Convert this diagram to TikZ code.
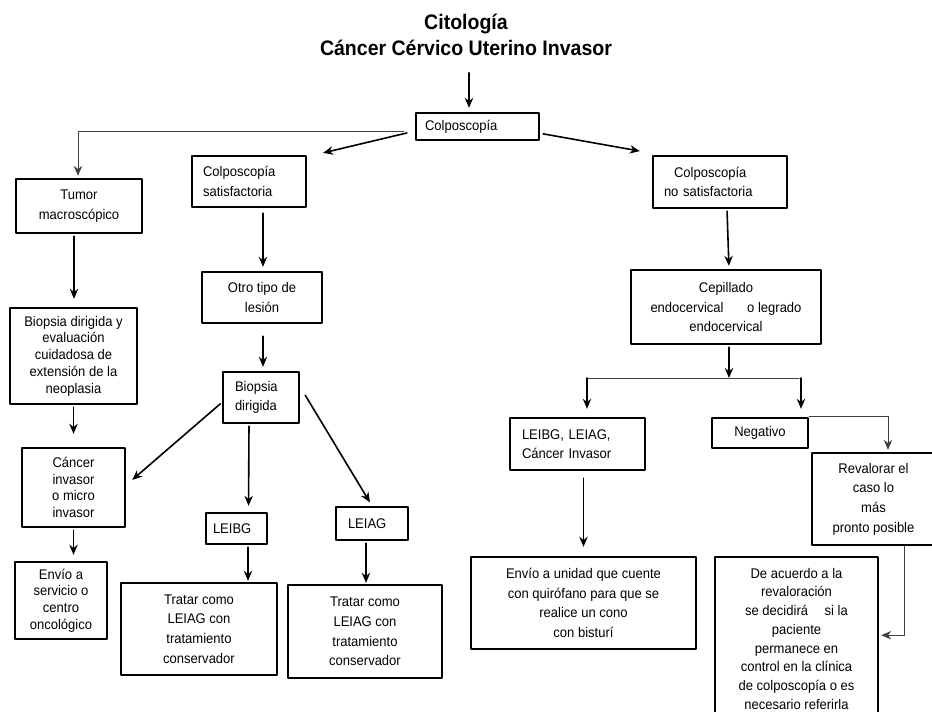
\documentclass[tikz,border=0pt]{standalone}
\usepackage{fontspec}
\setmainfont{Liberation Sans}[FakeStretch=0.93]
\usetikzlibrary{arrows.meta}

\begin{document}
\begin{tikzpicture}[x=0.5pt, y=-0.5pt, >={Stealth[length=5pt,width=4.2pt]},
  font=\fontsize{7}{9.8}\selectfont, line join=round, line cap=round,
  caja/.style={draw, line width=1.2pt, align=center, inner sep=1pt},
  apretada/.style={font=\fontsize{7}{8.4}\selectfont},
  izq/.style 2 args={align=left, text width=#1, inner xsep=#2},
  flecha/.style={->, line width=0.8pt, shorten <=1pt, shorten >=2pt},
  delgada/.style={->, line width=0.5pt, black!75, shorten >=1pt}]
\clip (0,0) rectangle (932,712);
% titulo
\node[font=\bfseries\fontsize{10.5}{13}\selectfont, align=center] (tit) at (466,35)
  {Citología\\Cáncer Cérvico Uterino Invasor};
% cajas
\node[caja, izq={52.5pt}{4.5pt}, minimum height=13.5pt] (colp) at (477.5,126.5) {Colposcopía};
\node[caja, izq={46pt}{5.5pt}, minimum height=25.5pt] (sat) at (249,181.5) {Colposcopía\\satisfactoria};
\node[caja, minimum width=63pt, minimum height=27pt] (tumor) at (79,206) {Tumor\\macroscópico};
\node[caja, apretada, minimum width=63.5pt, minimum height=48pt] (biop1) at (73.5,356)
  {Biopsia dirigida y\\evaluación\\cuidadosa de\\extensión de la\\neoplasia};
\node[caja, apretada, minimum width=51.5pt, minimum height=39.5pt] (cancer) at (73.5,487.5)
  {Cáncer\\invasor\\o micro\\invasor};
\node[caja, apretada, minimum width=46pt, minimum height=38.5pt] (envio1) at (61,600.5)
  {Envío a\\servicio o\\centro\\oncológico};
\node[caja, minimum width=60pt, minimum height=25.5pt] (otro) at (262,297.5) {Otro tipo de\\lesión};
\node[caja, izq={26pt}{6pt}, minimum height=25.5pt] (biop2) at (261,397.5) {Biopsia\\dirigida};
\node[caja, izq={23.5pt}{3.5pt}, minimum height=15.5pt] (leibg) at (236.5,528.5) {LEIBG};
\node[caja, izq={24pt}{6pt}, minimum height=16.5pt] (leiag) at (372,523.5) {LEIAG};
\node[caja, minimum width=78pt, minimum height=46pt] (trat1) at (199,629)
  {Tratar como\\LEIAG con\\tratamiento\\conservador};
\node[caja, minimum width=77pt, minimum height=46.5pt] (trat2) at (365,631.5)
  {Tratar como\\LEIAG con\\tratamiento\\conservador};
\node[caja, izq={56pt}{5.5pt}, minimum height=26pt] (nosat) at (720,182)
  {\hspace*{5pt}Colposcopía\\no satisfactoria};
\node[caja, minimum width=95pt, minimum height=37pt] (cepi) at (726,307)
  {Cepillado\\endocervical\hspace{10pt} o legrado\\endocervical};
\node[caja, izq={55.5pt}{6pt}, minimum height=26pt] (leis) at (577.5,444)
  {LEIBG, LEIAG,\\Cáncer Invasor};
\node[caja, minimum width=48pt, minimum height=15pt] (neg) at (760,433) {Negativo};
\node[caja, minimum width=61.5pt, minimum height=46pt] (reval) at (873.5,499)
  {Revalorar el\\caso lo\\más\\pronto posible};
\node[caja, minimum width=112.5pt, minimum height=46pt] (unidad) at (583.5,603)
  {Envío a unidad que cuente\\con quirófano para que se\\realice un cono\\con bisturí};
\node[caja, font=\fontsize{7}{9.35}\selectfont, anchor=north, minimum width=81.5pt, minimum height=81.5pt]
  (acuerdo) at (796.5,556)
  {De acuerdo a la\\revaloración\\se decidirá\hspace{6.5pt} si la\\paciente\\permanece en\\control en la clínica\\de colposcopía o es\\necesario referirla};
% flechas
\draw[flecha, shorten <=5pt] ([xshift=1.5pt]tit.south) -- ([xshift=1.5pt]tit.south |- colp.north);
\draw[flecha] ([shift={(-6,6)}]colp.west) -- ([shift={(12,-1)}]sat.north east);
\draw[delgada] ([shift={(-11,5)}]colp.west) -| ([xshift=-0.5pt]tumor.north);
\draw[flecha] ([shift={(1,7)}]colp.east) -- ([shift={(-8,-3)}]nosat.north west);
\draw[flecha, shorten >=4pt] ([xshift=-2.5pt]tumor.south) -- ([xshift=-2.5pt]tumor.south |- biop1.north);
\draw[flecha, shorten >=6.5pt] (biop1.south) -- (biop1.south |- cancer.north);
\draw[flecha, shorten >=3pt] (cancer.south) -- (cancer.south |- envio1.north);
\draw[flecha, shorten <=2.5pt] ([xshift=7pt]sat.south) -- ([xshift=7pt]sat.south |- otro.north);
\draw[flecha, shorten <=6pt] ([xshift=0.5pt]otro.south) -- ([xshift=0.5pt]otro.south |- biop2.north);
\draw[flecha] ([yshift=-2.5pt]biop2.west) -- ([shift={(3,-5)}]cancer.east);
\draw[flecha, shorten >=3pt] ([xshift=-6pt]biop2.south) -- ([xshift=6pt]leibg.north);
\draw[flecha] ([shift={(4,-4)}]biop2.east) -- (leiag.north);
\draw[flecha, shorten >=0.5pt] ([xshift=5.75pt]leibg.south) -- ([xshift=5.75pt]leibg.south |- trat1.north);
\draw[flecha, shorten >=0.5pt] ([xshift=-3pt]leiag.south) -- ([xshift=-3pt]leiag.south |- trat2.north);
\draw[flecha, shorten >=1.5pt] ([xshift=3.5pt]nosat.south) -- ([xshift=1.5pt]cepi.north);
% rama del cepillado
\coordinate (rama) at (729,378);
\coordinate (ramaI) at (587,378);
\coordinate (ramaD) at (801,378);
\draw[flecha, shorten >=0pt] ([xshift=1.5pt]cepi.south) -- (rama);
\draw[delgada, -] (ramaI) -- (ramaD);
\draw[flecha, shorten <=0pt, shorten >=4pt] (ramaI) -- (ramaI |- leis.north);
\draw[flecha, shorten <=0pt, shorten >=4pt] (ramaD) -- (ramaD |- neg.north);
\draw[flecha, shorten <=3.5pt, shorten >=4.5pt] ([xshift=3pt]leis.south) -- ([xshift=3pt]leis.south |- unidad.north);
\draw[delgada] (neg.north east) -| ([xshift=7.25pt]reval.north);
\draw[delgada] ([xshift=15.5pt]reval.south) |- ([yshift=1.75pt]acuerdo.east);
\end{tikzpicture}
\end{document}
